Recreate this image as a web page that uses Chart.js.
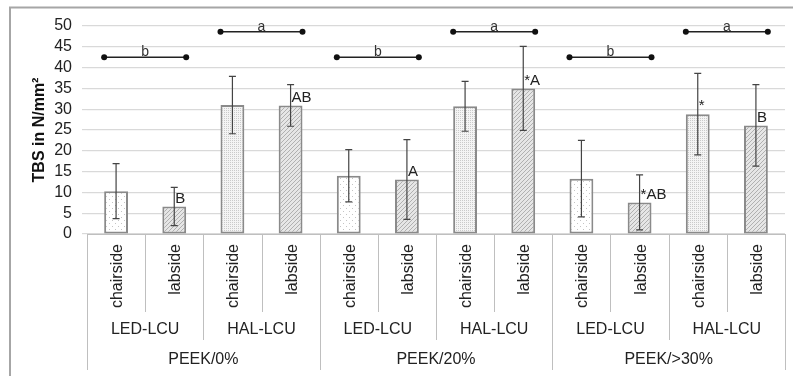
<!DOCTYPE html>
<html>
<head>
<meta charset="utf-8">
<script src="https://cdn.jsdelivr.net/npm/chart.js@4.4.1/dist/chart.umd.min.js"></script>
<style>
  html, body { margin: 0; padding: 0; background: #fff; }
  #wrap { width: 793px; height: 376px; position: relative; }
</style>
</head>
<body>
<div id="wrap"><canvas id="graphTBS"></canvas></div>
<script>
// categorias (una barra por lado)
const sides = ['chairside', 'labside', 'chairside', 'labside', 'chairside', 'labside',
               'chairside', 'labside', 'chairside', 'labside', 'chairside', 'labside'];
const lcus = ['LED-LCU', 'HAL-LCU', 'LED-LCU', 'HAL-LCU', 'LED-LCU', 'HAL-LCU'];
const materials = ['PEEK/0%', 'PEEK/20%', 'PEEK/>30%'];

// valores medios y desviacion
const means = [10.3, 6.6, 31.0, 30.9, 14.0, 13.1, 30.7, 35.0, 13.3, 7.6, 28.8, 26.1];
const sds   = [6.6, 4.6, 6.9, 5.0, 6.3, 9.6, 6.0, 10.1, 9.2, 6.6, 9.8, 9.8];
const marks = ['', 'B', '', 'AB', '', 'A', '', '*A', '', '*AB', '*', 'B'];

// corchetes de significancia: desde barra, hasta barra, altura, letra
const bracketFrom  = [0, 2, 4, 6, 8, 10];
const bracketTo    = [1, 3, 5, 7, 9, 11];
const bracketY     = [42.5, 48.6, 42.5, 48.6, 42.5, 48.6];
const bracketLabel = ['b', 'a', 'b', 'a', 'b', 'a'];

const yTicksMin = 0, yTicksMax = 50, yTicksStep = 5;

// patrones de relleno
function makePattern(size, bg, drawFn) {
    const c = document.createElement('canvas');
    c.width = size; c.height = size;
    const x = c.getContext('2d');
    x.fillStyle = bg;
    x.fillRect(0, 0, size, size);
    drawFn(x);
    return x.createPattern(c, 'repeat');
}
const patSparseDots = makePattern(6, '#ffffff', function(x){
    x.fillStyle = '#c4c4c4';
    x.fillRect(1, 1, 1, 1);
    x.fillRect(4, 4, 1, 1);
});
const patFineDots = makePattern(2, '#f4f4f4', function(x){
    x.fillStyle = '#cacaca';
    x.fillRect(0, 0, 1, 1);
});
const patHatch = makePattern(4, '#e6e6e6', function(x){
    x.fillStyle = '#b0b0b0';
    x.fillRect(3, 0, 1, 1);
    x.fillRect(2, 1, 1, 1);
    x.fillRect(1, 2, 1, 1);
    x.fillRect(0, 3, 1, 1);
});
const fills = sides.map(function(s, i){
    if (s === 'labside') return patHatch;
    return lcus[Math.floor(i / 2)] === 'LED-LCU' ? patSparseDots : patFineDots;
});

const FONT = '"Liberation Sans", Arial, sans-serif';

// marco exterior
const framePlugin = {
    id: 'frame',
    beforeDraw(chart) {
        const c = chart.ctx;
        c.save();
        c.strokeStyle = '#a6a6a6';
        c.lineWidth = 2;
        c.strokeRect(10, 7.5, chart.width + 20, chart.height + 20);
        c.restore();
    }
};

// barras de error, letras y corchetes
const extrasPlugin = {
    id: 'extras',
    afterDatasetsDraw(chart) {
        const c = chart.ctx;
        const y = chart.scales.y;
        const bars = chart.getDatasetMeta(0).data;
        c.save();
        // error bars
        c.strokeStyle = '#444';
        c.lineWidth = 1.2;
        bars.forEach(function(b, i){
            const yt = y.getPixelForValue(means[i] + sds[i]);
            const yb = y.getPixelForValue(Math.max(0, means[i] - sds[i]));
            c.beginPath();
            c.moveTo(b.x, yt); c.lineTo(b.x, yb);
            c.moveTo(b.x - 3.5, yt); c.lineTo(b.x + 3.5, yt);
            c.moveTo(b.x - 3.5, yb); c.lineTo(b.x + 3.5, yb);
            c.stroke();
        });
        // letras
        c.fillStyle = '#222';
        c.font = '15px ' + FONT;
        c.textAlign = 'left';
        c.textBaseline = 'bottom';
        bars.forEach(function(b, i){
            if (!marks[i]) return;
            c.fillText(marks[i], b.x + 1, y.getPixelForValue(means[i]) - 0.5);
        });
        // corchetes
        c.strokeStyle = '#222';
        c.lineWidth = 1.4;
        c.textAlign = 'center';
        c.textBaseline = 'alphabetic';
        c.font = '14px ' + FONT;
        bracketFrom.forEach(function(f, k){
            const b0 = bars[f], b1 = bars[bracketTo[k]];
            const x0 = b0.x - b0.width / 2, x1 = b1.x + b1.width / 2;
            const yy = y.getPixelForValue(bracketY[k]);
            c.beginPath();
            c.moveTo(x0, yy); c.lineTo(x1, yy);
            c.stroke();
            c.fillStyle = '#111';
            [x0, x1].forEach(function(xx){
                c.beginPath();
                c.arc(xx, yy, 3, 0, Math.PI * 2);
                c.fill();
            });
            c.fillStyle = '#333';
            c.fillText(bracketLabel[k], (x0 + x1) / 2, yy - 1);
        });
        c.restore();
    }
};

// eje x jerarquico
const xAxisPlugin = {
    id: 'xhier',
    afterDraw(chart) {
        const c = chart.ctx;
        const xs = chart.scales.x;
        const area = chart.chartArea;
        const y0 = area.bottom;
        const n = sides.length;
        const step = xs.getPixelForValue(1) - xs.getPixelForValue(0);
        c.save();
        c.strokeStyle = '#bfbfbf';
        c.lineWidth = 1;
        // linea del eje
        c.beginPath();
        c.moveTo(area.left, y0 + 0.5); c.lineTo(area.right, y0 + 0.5);
        c.stroke();
        // separadores
        for (let i = 0; i <= n; i++) {
            const xb = Math.round(xs.getPixelForValue(i) - step / 2) + 0.5;
            let len = 78;
            if (i % 4 === 0) len = 136;
            else if (i % 2 === 0) len = 106;
            c.beginPath();
            c.moveTo(xb, y0); c.lineTo(xb, y0 + len);
            c.stroke();
        }
        c.fillStyle = '#222';
        c.font = '16px ' + FONT;
        // lados, rotados
        sides.forEach(function(s, i){
            c.save();
            c.translate(xs.getPixelForValue(i) + 6, y0 + 10);
            c.rotate(-Math.PI / 2);
            c.textAlign = 'right';
            c.textBaseline = 'alphabetic';
            c.fillText(s, 0, 0);
            c.restore();
        });
        c.textAlign = 'center';
        c.textBaseline = 'middle';
        lcus.forEach(function(l, k){
            const xm = (xs.getPixelForValue(2 * k) + xs.getPixelForValue(2 * k + 1)) / 2;
            c.fillText(l, xm, y0 + 96);
        });
        materials.forEach(function(m, k){
            const xm = (xs.getPixelForValue(4 * k) + xs.getPixelForValue(4 * k + 3)) / 2;
            c.fillText(m, xm, y0 + 126);
        });
        c.restore();
    }
};

const graphTBS = document.querySelector('#graphTBS');
const dataTBS = {
    labels: sides,
    datasets: [{
        label: 'TBS',
        data: means,
        backgroundColor: fills,
        borderColor: '#8a8a8a',
        borderWidth: 2,
        borderSkipped: false,
        barPercentage: 0.41,
        categoryPercentage: 1
    }]
};

const configTBS = {
    type: 'bar',
    data: dataTBS,
    options: {
        responsive: true,
        maintainAspectRatio: false,
        animation: false,
        layout: { padding: { left: 26, right: 8, top: 26, bottom: 0 } },
        plugins: {
            legend: { display: false },
            tooltip: { enabled: false }
        },
        scales: {
            x: {
                grid: { display: false, drawTicks: false },
                border: { display: false },
                ticks: { display: false },
                afterFit: function(s) { s.height = 142; }
            },
            y: {
                min: yTicksMin,
                max: yTicksMax,
                border: { display: false },
                grid: { color: '#d9d9d9', lineWidth: 1.2, tickLength: 5, drawTicks: true },
                ticks: {
                    stepSize: yTicksStep,
                    autoSkip: false,
                    padding: 10,
                    color: '#222',
                    font: { family: FONT, size: 16 }
                },
                title: {
                    display: true,
                    text: 'TBS in N/mm²',
                    color: '#111',
                    padding: { top: 4, bottom: 0 },
                    font: { family: FONT, size: 16, weight: 'bold' }
                },
                afterFit: function(s) { s.width = 61; }
            }
        }
    },
    plugins: [framePlugin, extrasPlugin, xAxisPlugin]
};

new Chart(graphTBS, configTBS);
</script>
</body>
</html>
